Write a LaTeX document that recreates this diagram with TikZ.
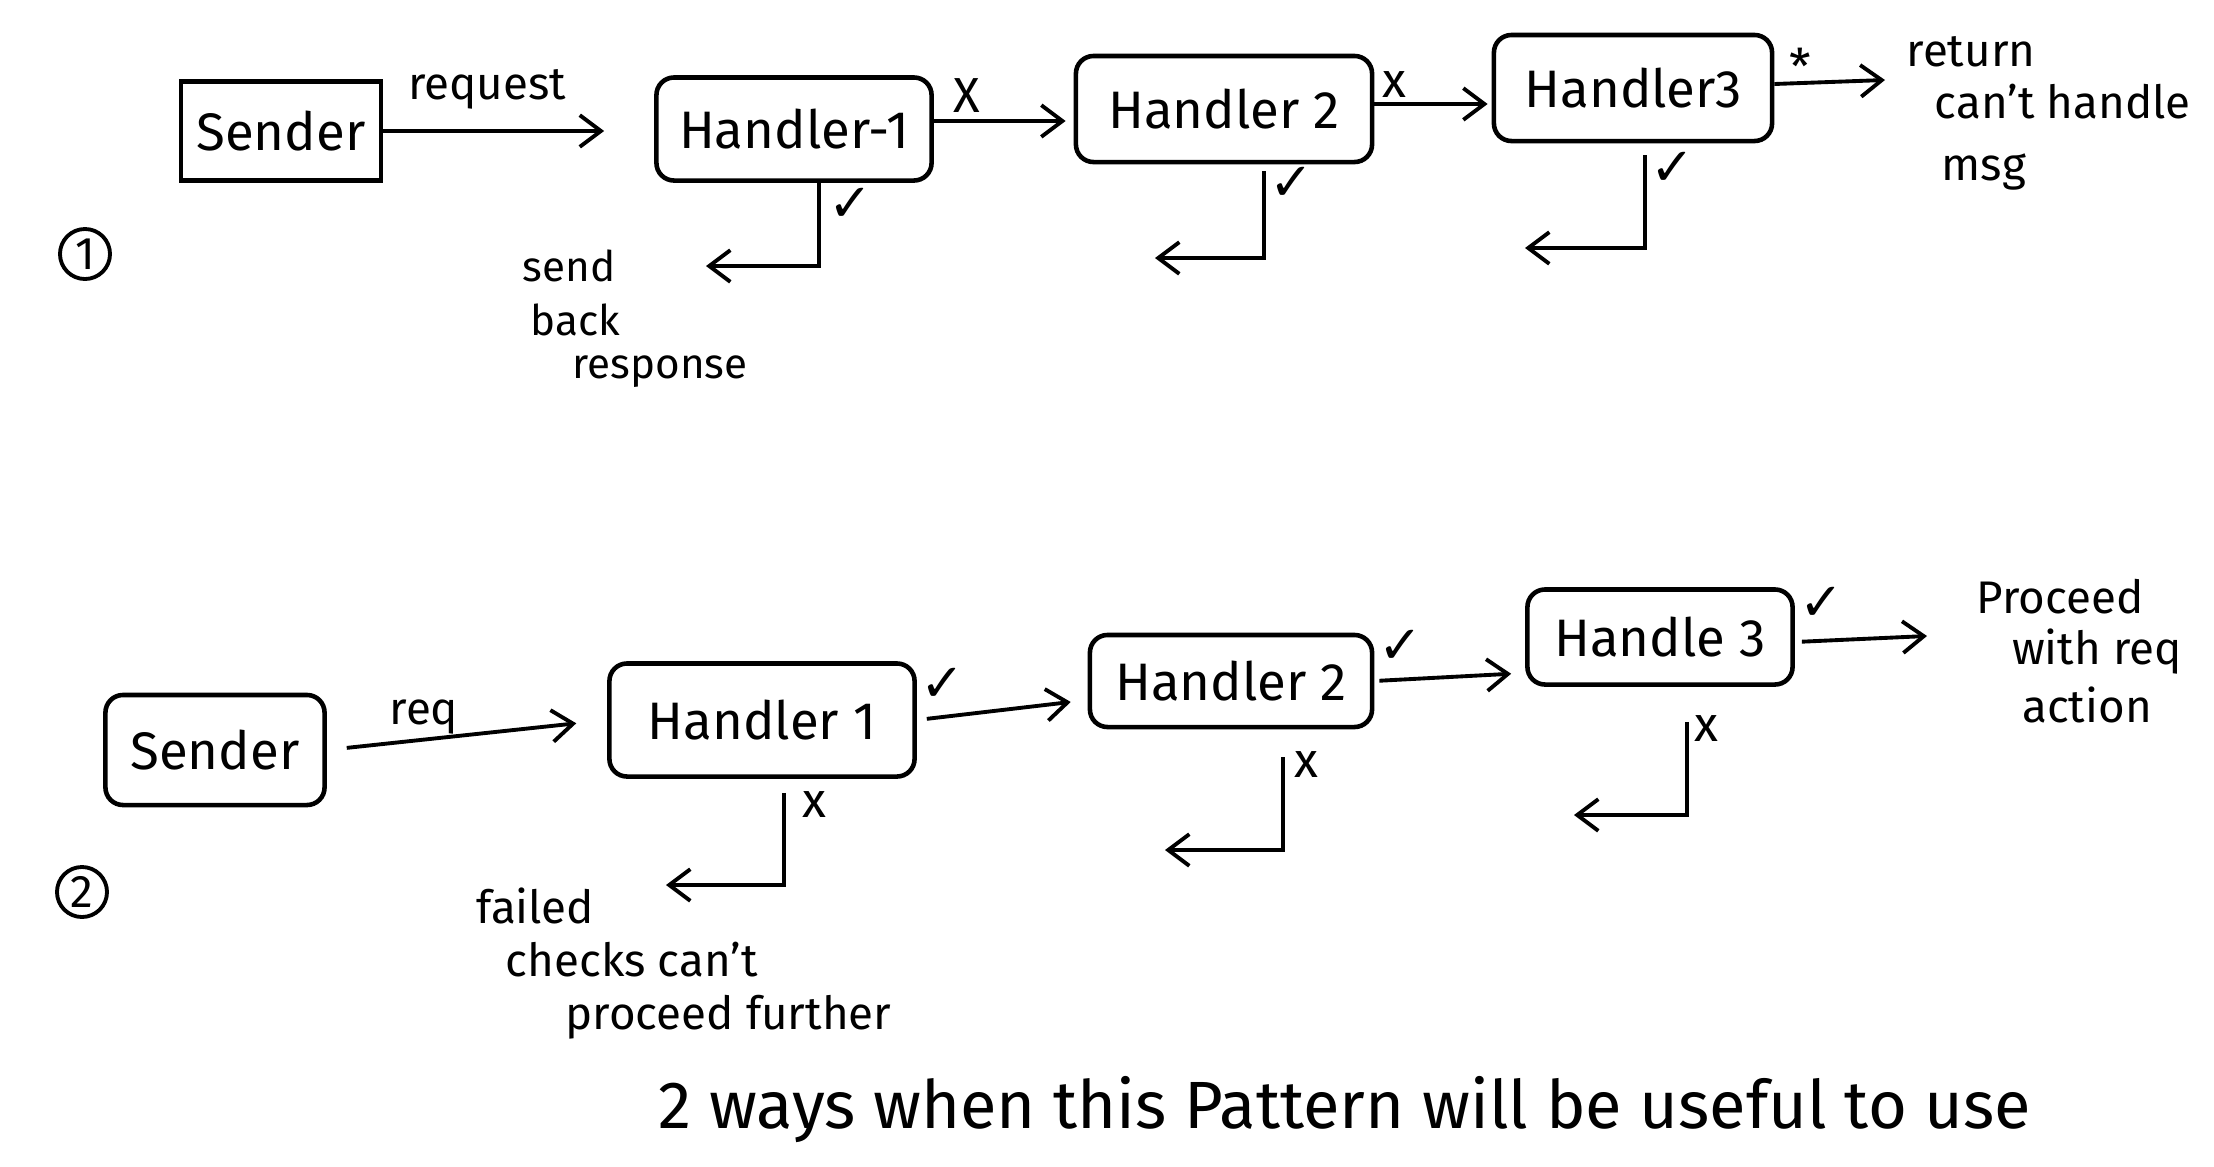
\documentclass[tikz,border=0pt]{standalone}
\usepackage{fontspec}
\setmainfont{Fira Sans}
\newfontfamily\symf{DejaVu Sans}
\usetikzlibrary{arrows.meta,calc}
\begin{document}
\begin{tikzpicture}[x=0.01cm,y=-0.01cm,
  box/.style={draw,line width=1.3pt,rounded corners=5pt,inner sep=0pt,font=\fontsize{15}{18}\selectfont},
  sbox/.style={draw,line width=1.3pt,inner sep=0pt,font=\fontsize{15}{18}\selectfont},
  flow/.style={line width=1.1pt,-{Straight Barb[length=6pt,width=9pt]}},
  lbl/.style={font=\fontsize{13}{16}\selectfont,inner sep=1pt},
  txt/.style={font=\fontsize{13}{16}\selectfont,inner sep=0pt,anchor=west},
  chk/.style={font=\symf\fontsize{15}{18}\selectfont,inner sep=0pt},
  xmark/.style={font=\fontsize{14}{16}\selectfont,inner sep=0pt},
  num/.style={draw,circle,line width=1.1pt,minimum size=0.5cm,inner sep=0pt,font=\fontsize{13}{15}\selectfont}]
\useasboundingbox (0,0) rectangle (2214,1166);

% ---------- Row 1 ----------
\node[sbox,minimum width=2.00cm,minimum height=0.99cm] (s1) at (281,131) {Sender};
\node[box,minimum width=2.75cm,minimum height=1.03cm] (h11) at (794,129) {Handler-1};
\node[box,minimum width=2.96cm,minimum height=1.06cm] (h12) at (1224,109) {Handler 2};
\node[box,minimum width=2.78cm,minimum height=1.06cm] (h13) at (1633,88) {Handler3};
\coordinate (ret) at (1885,80);

\draw[flow,shorten >=0.5cm] (s1.east) -- (s1.east -| h11.west);
\node[lbl] (lreq1) at (487,89) {request};
\draw[flow,shorten >=0.08cm] ([yshift=0.08cm]h11.east) -- ([yshift=0.08cm]h11.east -| h12.west);
\node[xmark] (x11) at (967,96) {X};
\draw[flow,shorten >=0.04cm] ([yshift=0.05cm]h12.east) -- ([yshift=0.05cm]h12.east -| h13.west);
\node[xmark] (x12) at (1394,85) {x};
\draw[flow] ([yshift=0.04cm]h13.east) -- (ret);
\node[xmark] (x13) at (1800,66) {*};

\node[txt] (rt1) at (1906,52) {return};
\node[txt] (rt2) at (1934,102) {can't handle};
\node[txt] (rt3) at (1941,172) {msg};

\coordinate (d11) at (706,266);
\coordinate (d12) at (1155,258);
\coordinate (d13) at (1525,248);
\draw[flow,shorten <=-0.02cm] ([xshift=0.25cm]h11.south) |- (d11);
\draw[flow,shorten <=0.07cm] ([xshift=0.40cm]h12.south) |- (d12);
\draw[flow,shorten <=0.12cm] ([xshift=0.12cm]h13.south) |- (d13);
\node[chk] (c11) at (851,205) {✓};
\node[chk] (c12) at (1292,184) {✓};
\node[chk] (c13) at (1673,169) {✓};

\node[txt,font=\fontsize{12}{14}\selectfont] (sb1) at (522,266) {send};
\node[txt,font=\fontsize{12}{14}\selectfont] (sb2) at (530,320) {back};
\node[txt,font=\fontsize{12}{14}\selectfont] (sb3) at (572,372) {response};

\node[num] (n1) at (85,254) {1};

% ---------- Row 2 ----------
\node[box,minimum width=2.19cm,minimum height=1.10cm] (s2) at (215,750) {Sender};
\node[box,minimum width=3.05cm,minimum height=1.13cm] (h21) at (762,720) {Handler 1};
\node[box,minimum width=2.82cm,minimum height=0.92cm] (h22) at (1231,681) {Handler 2};
\node[box,minimum width=2.65cm,minimum height=0.95cm] (h23) at (1660,637) {Handle 3};
\coordinate (proc) at (1927,636);

\draw[flow,shorten <=0.2cm,shorten >=0.31cm] (s2.east) -- (h21.west);
\node[lbl] (lreq2) at (424,717) {req};
\draw[flow,shorten <=0.1cm,shorten >=0.17cm] (h21.east) -- ([yshift=0.2cm]h21.east -| h22.west);
\node[chk] (c21) at (943,685) {✓};
\draw[flow,shorten <=0.05cm,shorten >=0.14cm] (h22.east) -- ([yshift=0.08cm]h22.east -| h23.west);
\node[chk] (c22) at (1401,647) {✓};
\draw[flow,shorten <=0.07cm] ([yshift=-0.05cm]h23.east) -- (proc);
\node[chk] (c23) at (1822,604) {✓};

\node[txt,anchor=center] (pr1) at (2060,597) {Proceed};
\node[txt,anchor=center] (pr2) at (2097,652) {with req};
\node[txt,anchor=center] (pr3) at (2087,705) {action};

\coordinate (d21) at (666,885);
\coordinate (d22) at (1165,850);
\coordinate (d23) at (1574,815);
\draw[flow,shorten <=0.14cm] ([xshift=0.22cm]h21.south) |- (d21);
\draw[flow,shorten <=0.28cm] ([xshift=0.52cm]h22.south) |- (d22);
\draw[flow,shorten <=0.35cm] ([xshift=0.27cm]h23.south) |- (d23);
\node[xmark] (x21) at (814,805) {x};
\node[xmark] (x22) at (1306,765) {x};
\node[xmark] (x23) at (1706,729) {x};

\node[txt] (fc1) at (476,906) {failed};
\node[txt] (fc2) at (505,960) {checks can't};
\node[txt] (fc3) at (565,1017) {proceed further};

\node[num] (n2) at (82,892) {2};

\node[font=\fontsize{19}{22}\selectfont,inner sep=0pt] (foot) at (1345,1110) {2 ways when this Pattern will be useful to use};
\end{tikzpicture}
\end{document}
